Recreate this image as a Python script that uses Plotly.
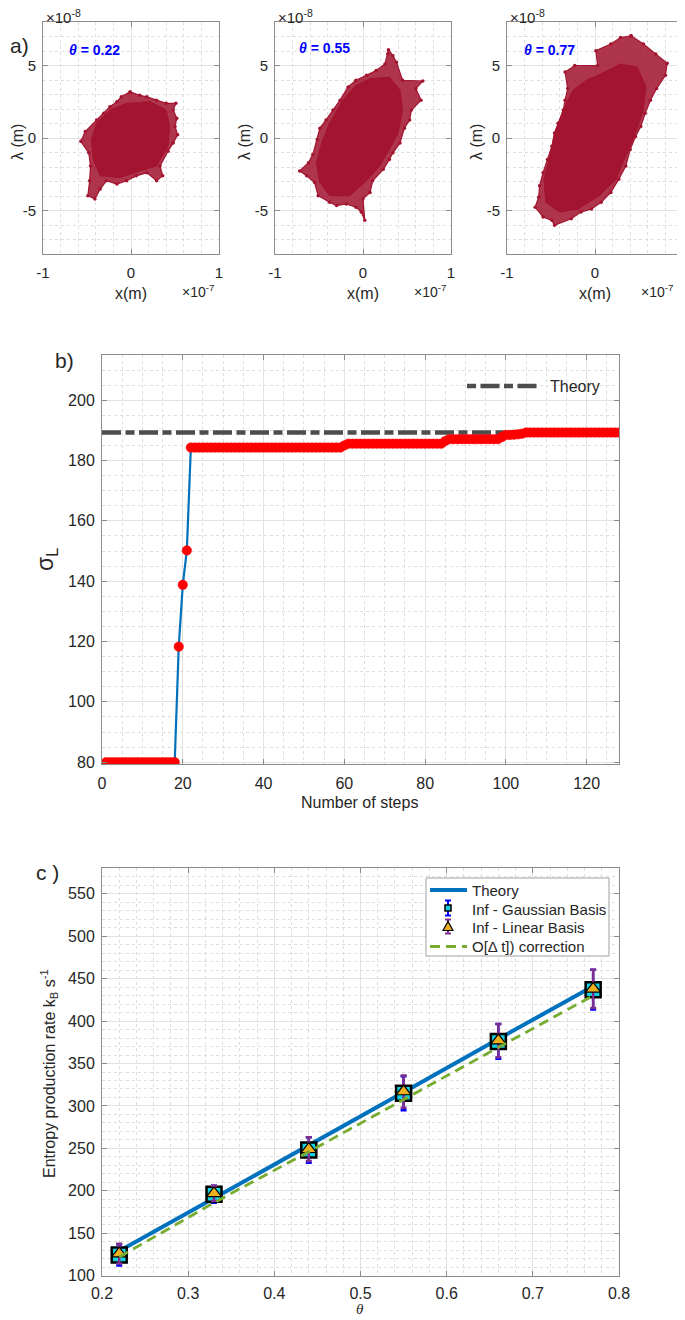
import plotly.graph_objects as go

# The page body has an 8px margin, so the figure is shifted by OFF and sized to fit the window.
OFF = 8
W, H = 685 - OFF, 1320 - OFF
FONT = "Liberation Sans, Arial, Helvetica, sans-serif"
RED = "#A2142F"
AXC = "#8c8c8c"
TXT = "#262626"
BLUE = "#0072BD"
GREEN = "#77AC30"
PURPLE = "#7E2F8E"
ORANGE = "#EDB120"
CYAN = "#12D2E2"

# ---------------- panel a : trajectory clouds (x in 1e-7 m, lambda in 1e-8 m) -------------
thetas_a = ["0.22", "0.55", "0.77"]

a1_outer_x = [-0.01, 0.10, 0.18, 0.29, 0.40, 0.51, 0.48, 0.52, 0.50, 0.53, 0.48, 0.42, 0.33, 0.36, 0.29,
              0.18, 0.06, -0.05, -0.16, -0.28, -0.35, -0.41, -0.49, -0.47, -0.46, -0.48, -0.57, -0.52,
              -0.39, -0.31, -0.24, -0.16, -0.11]
a1_outer_y = [3.18, 2.95, 2.84, 2.61, 2.39, 2.39, 1.93, 1.36, 0.80, 0.23, -0.34, -0.91, -1.93, -2.61, -2.95,
              -2.39, -2.61, -2.95, -3.18, -2.95, -3.52, -4.20, -3.98, -2.95, -1.93, -1.02, -0.23, 0.45,
              1.25, 1.70, 2.16, 2.50, 2.84]
a1_core_x = [-0.05, 0.22, 0.40, 0.44, 0.42, 0.29, 0.10, -0.12, -0.35, -0.43, -0.45, -0.39, -0.24]
a1_core_y = [2.39, 2.50, 1.93, 0.80, -0.57, -1.93, -2.27, -2.73, -2.61, -1.48, -0.11, 1.02, 1.93]

a2_outer_x = [0.29, 0.34, 0.38, 0.45, 0.68, 0.60, 0.66, 0.55, 0.53, 0.47, 0.42, 0.34, 0.30, 0.23, 0.11,
              0.08, 0.00, 0.02, -0.02, -0.08, -0.19, -0.30, -0.38, -0.51, -0.55, -0.64, -0.72, -0.62,
              -0.57, -0.52, -0.49, -0.42, -0.34, -0.26, -0.17, -0.08, 0.04, 0.15, 0.25, 0.28]
a2_outer_y = [6.07, 5.68, 5.23, 3.98, 3.93, 3.41, 2.61, 1.93, 1.25, 0.68, -0.34, -1.02, -1.48, -2.16, -2.95,
              -3.75, -4.20, -5.68, -5.11, -4.77, -4.55, -4.66, -4.43, -3.98, -3.07, -2.61, -2.27, -1.70,
              -1.14, -0.11, 0.68, 1.25, 1.93, 2.61, 3.52, 3.98, 4.32, 4.66, 5.11, 5.80]
a2_core_x = [0.08, 0.30, 0.42, 0.45, 0.40, 0.30, 0.19, 0.04, -0.15, -0.38, -0.49, -0.53, -0.47, -0.38,
             -0.23, -0.08]
a2_core_y = [4.09, 4.20, 3.30, 1.93, 0.34, -0.80, -1.93, -2.95, -3.98, -3.98, -3.07, -1.70, -0.34, 1.02,
             2.61, 3.64]

a3_outer_x = [0.41, 0.55, 0.69, 0.82, 0.80, 0.70, 0.63, 0.57, 0.52, 0.46, 0.40, 0.35, 0.27, 0.18, 0.07,
              -0.04, -0.16, -0.27, -0.46, -0.49, -0.59, -0.68, -0.64, -0.63, -0.59, -0.54, -0.49, -0.46,
              -0.42, -0.36, -0.34, -0.31, -0.34, -0.23, 0.03, 0.01, 0.18, 0.29]
a3_outer_y = [7.05, 6.48, 5.80, 5.16, 4.32, 3.41, 2.61, 1.70, 0.80, 0.11, -0.80, -1.93, -2.84, -3.75, -4.43,
              -4.89, -5.11, -5.57, -6.02, -5.68, -5.45, -4.77, -4.09, -3.30, -2.39, -1.48, -0.57, 0.34,
              1.02, 1.93, 2.61, 3.41, 4.55, 5.00, 5.00, 6.02, 6.48, 6.93]
a3_core_x = [0.07, 0.29, 0.48, 0.58, 0.55, 0.46, 0.35, 0.24, 0.05, -0.19, -0.40, -0.56, -0.58, -0.51,
             -0.46, -0.36, -0.25, -0.10]
a3_core_y = [4.43, 5.11, 4.89, 3.52, 1.93, 0.34, -1.25, -2.84, -3.98, -4.89, -5.11, -4.43, -2.84, -1.25,
             0.34, 1.93, 3.30, 3.98]

a_tick_x = [-1, 0, 1]
a_tick_y = [-5, 0, 5]

# ---------------- panel b ----------------
steps = list(range(1, 129))
sigma_L = ([80.0] * 18 + [118.3, 138.8, 150.2] + [184.3] * 38 + [185.0] + [185.6] * 24 + [186.5]
           + [187.1] * 13 + [187.8, 188.5, 188.5, 188.6, 188.7, 188.9] + [189.3] * 24)
theory_b_x = [0, 128]
theory_b_y = [189.3, 189.3]
b_xticks = [0, 20, 40, 60, 80, 100, 120]
b_yticks = [80, 100, 120, 140, 160, 180, 200]

# ---------------- panel c ----------------
theta_c = [0.22, 0.33, 0.44, 0.55, 0.66, 0.77]
theory_c = [129, 191, 254, 316, 379, 441]
gauss_c = [124.4, 196.0, 248.0, 315.0, 376.0, 437.0]
gauss_err = [12.5, 10.0, 15.0, 20.0, 20.5, 23.5]
linear_c = [126.0, 197.0, 249.0, 317.0, 377.0, 438.0]
linear_err = [11.5, 9.0, 14.0, 19.0, 19.5, 22.5]
corr_c = [122, 186, 246, 308, 369, 430]
c_xticks = [0.2, 0.3, 0.4, 0.5, 0.6, 0.7, 0.8]
c_yticks = [100, 150, 200, 250, 300, 350, 400, 450, 500, 550]
legend_c_labels = ["Theory", "Inf - Gaussian Basis", "Inf - Linear Basis", "O[Δ t]) correction"]


def PX(x):
    return (x - OFF) / W


def PY(y):
    return 1 - (y - OFF) / H


def axis(domain, rng, tickvals, ticktext, minor_dtick, minor_tick0, size, standoff=2):
    return dict(domain=domain, range=rng, tickmode="array", tickvals=tickvals, ticktext=ticktext,
                automargin=False,
                showline=True, linecolor=AXC, linewidth=1, mirror="ticks", ticks="inside", ticklen=5,
                tickcolor=AXC, tickfont=dict(family=FONT, size=size, color=TXT),
                showgrid=True, gridcolor="#e2e2e2", gridwidth=1, zeroline=False,
                ticklabelstandoff=standoff,
                minor=dict(tickmode="linear", dtick=minor_dtick, tick0=minor_tick0, showgrid=True,
                           gridcolor="#dedede", griddash="dot", gridwidth=1, ticks=""))


fig = go.Figure()

a_sets = [(a1_outer_x, a1_outer_y, a1_core_x, a1_core_y),
          (a2_outer_x, a2_outer_y, a2_core_x, a2_core_y),
          (a3_outer_x, a3_outer_y, a3_core_x, a3_core_y)]
a_left = [43, 275, 507]
for i, (ox, oy, cx, cy) in enumerate(a_sets):
    xa = "x" if i == 0 else f"x{i + 1}"
    ya = "y" if i == 0 else f"y{i + 1}"
    fig.add_trace(go.Scatter(x=[v * 1e-7 for v in ox + ox[:1]], y=[v * 1e-8 for v in oy + oy[:1]],
                             mode="lines+markers", fill="toself", fillcolor="rgba(162,20,47,0.86)",
                             line=dict(color=RED, width=1.2), marker=dict(size=3.5, color=RED),
                             xaxis=xa, yaxis=ya, showlegend=False, hoverinfo="skip"))
    fig.add_trace(go.Scatter(x=[v * 1e-7 for v in cx + cx[:1]], y=[v * 1e-8 for v in cy + cy[:1]],
                             mode="lines", fill="toself", fillcolor=RED, line=dict(color=RED, width=1),
                             xaxis=xa, yaxis=ya, showlegend=False, hoverinfo="skip"))

# panel b
THEORY_DASH = "19px,4.5px,9px,4.5px"
fig.add_trace(go.Scatter(x=theory_b_x, y=theory_b_y, mode="lines", name="Theory",
                         line=dict(color="#4d4d4d", width=4.3, dash=THEORY_DASH),
                         xaxis="x4", yaxis="y4", showlegend=False))
fig.add_trace(go.Scatter(x=steps, y=sigma_L, mode="lines", line=dict(color=BLUE, width=2.2),
                         xaxis="x4", yaxis="y4", showlegend=False))
fig.add_trace(go.Scatter(x=steps, y=sigma_L, mode="markers",
                         marker=dict(size=9.5, color="#FF0000", line=dict(color="#FF0000", width=0.5)),
                         xaxis="x4", yaxis="y4", showlegend=False))

# panel c
fig.add_trace(go.Scatter(x=theta_c, y=theory_c, mode="lines", name="Theory", showlegend=False,
                         line=dict(color=BLUE, width=4), xaxis="x5", yaxis="y5"))
fig.add_trace(go.Scatter(x=theta_c, y=gauss_c, mode="markers", showlegend=False,
                         error_y=dict(type="data", array=gauss_err, color="#0000FF", thickness=2.5, width=3),
                         marker=dict(symbol="square", size=15, color=CYAN, line=dict(color="black", width=2.5)),
                         xaxis="x5", yaxis="y5"))
fig.add_trace(go.Scatter(x=theta_c, y=linear_c, mode="markers", showlegend=False,
                         error_y=dict(type="data", array=linear_err, color=PURPLE, thickness=2.5, width=3),
                         marker=dict(symbol="triangle-up", size=13, color=ORANGE, line=dict(color="black", width=1.2)),
                         xaxis="x5", yaxis="y5"))
fig.add_trace(go.Scatter(x=theta_c, y=corr_c, mode="lines", showlegend=False,
                         line=dict(color=GREEN, width=2.8, dash="10px,6px"), xaxis="x5", yaxis="y5"))

layout = dict(width=W, height=H, margin=dict(l=0, r=0, t=0, b=0, autoexpand=False), paper_bgcolor="white",
              plot_bgcolor="white", font=dict(family=FONT, color=TXT), showlegend=False)

ya_dom = [PY(254), PY(22)]
for i, left in enumerate(a_left):
    xs = "xaxis" if i == 0 else f"xaxis{i + 1}"
    ys = "yaxis" if i == 0 else f"yaxis{i + 1}"
    layout[xs] = axis([PX(left), PX(left + 176)], [-1e-7, 1e-7], [v * 1e-7 for v in a_tick_x],
                      [str(v) for v in a_tick_x], 0.2e-7, 0, 15, standoff=5)
    layout[ys] = axis(ya_dom, [-8e-8, 8e-8], [v * 1e-8 for v in a_tick_y],
                      [str(v) for v in a_tick_y], 1e-8, 0, 15, standoff=3)
    layout[xs]["anchor"] = "y" if i == 0 else f"y{i + 1}"
    layout[ys]["anchor"] = "x" if i == 0 else f"x{i + 1}"

layout["xaxis4"] = axis([PX(102), PX(619)], [0, 128], b_xticks, [str(v) for v in b_xticks], 5, 0, 16, standoff=4)
layout["yaxis4"] = axis([PY(764.3), PY(355)], [79.3, 215], b_yticks, [str(v) for v in b_yticks], 5, 80, 16, standoff=3)
layout["xaxis4"]["anchor"] = "y4"
layout["yaxis4"]["anchor"] = "x4"

layout["xaxis5"] = axis([PX(102), PX(619)], [0.2, 0.8], c_xticks, [f"{v:.1f}" for v in c_xticks], 0.02, 0.2, 16, standoff=3)
layout["yaxis5"] = axis([PY(1275.7), PY(868.3)], [100, 580], c_yticks, [str(v) for v in c_yticks], 10, 100, 16, standoff=3)
layout["xaxis5"]["anchor"] = "y5"
layout["yaxis5"]["anchor"] = "x5"

fig.update_layout(**layout)

# ---------------- legends drawn as decoration (paper coordinates) ----------------
shapes = []


def pline(x0, y0, x1, y1, color, width, dash="solid"):
    shapes.append(dict(type="line", xref="paper", yref="paper", x0=PX(x0), y0=PY(y0), x1=PX(x1), y1=PY(y1),
                       line=dict(color=color, width=width, dash=dash)))


def errbar(x, y0, y1, color):
    pline(x, y0, x, y1, color, 2)
    pline(x - 3, y0, x + 3, y0, color, 2)
    pline(x - 3, y1, x + 3, y1, color, 2)


# legend b
pline(467, 386, 537, 386, "#4d4d4d", 4.3, "9px,4.5px,19px,4.5px")

# legend c
shapes.append(dict(type="rect", xref="paper", yref="paper", x0=PX(426), x1=PX(609), y0=PY(878), y1=PY(956),
                   line=dict(color="#a0a0a0", width=1), fillcolor="white"))
leg_rows = [890, 909, 927, 946.5]
pline(430, leg_rows[0], 467, leg_rows[0], BLUE, 4)
errbar(448, 900.5, 915.5, "#0000FF")
shapes.append(dict(type="rect", xref="paper", yref="paper", x0=PX(445), x1=PX(451), y0=PY(905), y1=PY(911),
                   line=dict(color="black", width=1.5), fillcolor=CYAN))
errbar(448, 919.5, 933.5, PURPLE)
tri = "M {:.5f} {:.5f} L {:.5f} {:.5f} L {:.5f} {:.5f} Z".format(PX(443), PY(930.5), PX(453), PY(930.5),
                                                                  PX(448), PY(921.5))
shapes.append(dict(type="path", xref="paper", yref="paper", path=tri, fillcolor=ORANGE,
                   line=dict(color="black", width=1.2)))
pline(430, leg_rows[3], 467, leg_rows[3], GREEN, 2.8, "10px,6px")

ann = []


def add_text(x, y, text, size, xanchor="center", yanchor="middle", **kw):
    d = dict(x=PX(x), y=PY(y), xref="paper", yref="paper", text=text, showarrow=False,
             xanchor=xanchor, yanchor=yanchor,
             font=dict(family=kw.pop("family", FONT), size=size, color=kw.pop("color", TXT)))
    d.update(kw)
    ann.append(d)


add_text(548, 386, "Theory", 16, xanchor="left")
for lab, yy in zip(legend_c_labels, leg_rows):
    add_text(470, yy, lab, 15, xanchor="left")

theta_left = [67, 297, 522]
theta_y = [50, 48, 50]
exp7_left = [180, 412, 639]
lam_x = [17, 244, 476]
for i, left in enumerate(a_left):
    cx = left + 88
    add_text(cx, 293, "x(m)", 16)
    add_text(exp7_left[i], 291, "×10<sup>-7</sup>", 14, xanchor="left")
    add_text(left + 1, 17, "×10<sup>-8</sup>", 15, xanchor="left")
    add_text(lam_x[i], 142, "λ (m)", 16, textangle=-90)
    add_text(theta_left[i], theta_y[i], "<b><i>θ</i> = " + thetas_a[i] + "</b>", 14, color="#0000FF",
             xanchor="left")

add_text(8, 45, "a)", 21, xanchor="left")
add_text(64, 360, "b)", 21)
add_text(47, 872, "c )", 21)
add_text(47, 560, "σ<sub>L</sub>", 23, textangle=-90)
add_text(360, 802, "Number of steps", 16)
add_text(49, 1074, "Entropy production rate k<sub>B</sub> s<sup>-1</sup>", 16, textangle=-90)
add_text(360, 1309, "<i>θ</i>", 15, family="Liberation Serif, serif")

fig.update_layout(annotations=ann, shapes=shapes)
fig.write_html("out.html")
